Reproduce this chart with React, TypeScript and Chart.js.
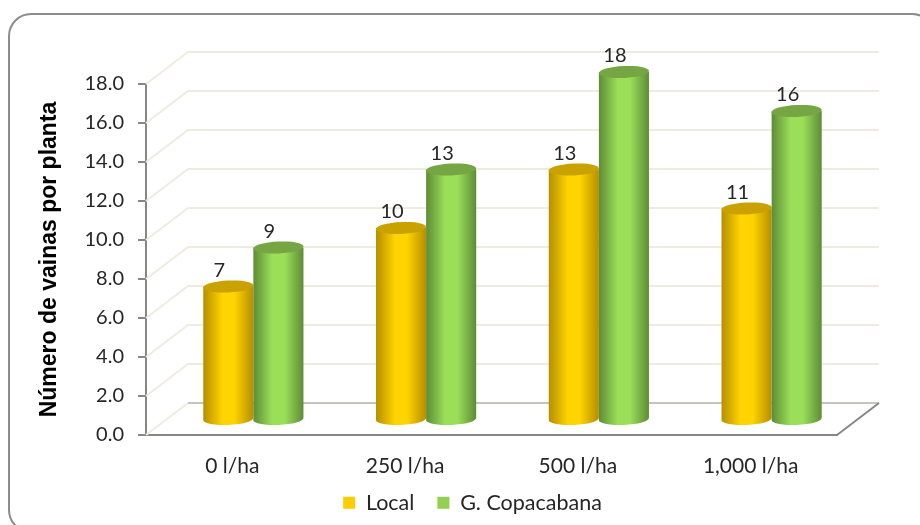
import React, { useEffect, useRef } from "react";
import { Chart, registerables } from "chart.js";

Chart.register(...registerables);

const categories = ["0 l/ha", "250 l/ha", "500 l/ha", "1,000 l/ha"];
const localValues = [7, 10, 13, 11];
const copacabanaValues = [9, 13, 18, 16];

const FONT = "Lato, sans-serif";
const AXIS_GRAY = "#868686";
const WALL_LINE = "#EEECE1";
const TEXT = "#262626";

// Offset from the front plane of the floor to the back wall.
const DEPTH_X = 42;
const DEPTH_Y = 32;

const PALETTE = [
  { solid: "#FFCC00", edge: "#B58E00", mid: "#FFD400", cap: "#C9A200" },
  { solid: "#92D050", edge: "#5E8C36", mid: "#9BDF59", cap: "#76A543" },
];

const roundedFrame = {
  id: "roundedFrame",
  beforeDraw(chart: any) {
    const { ctx } = chart;
    ctx.save();
    ctx.strokeStyle = "#8C8C8C";
    ctx.lineWidth = 2;
    ctx.beginPath();
    ctx.roundRect(9, 14, 925, 518, 22);
    ctx.stroke();
    ctx.restore();
  },
};

// Draws the back wall, the floor, and places the legend row under the plot.
const perspectiveBox = {
  id: "perspectiveBox",
  afterLayout(chart: any) {
    const legend = chart.legend;
    legend.left += 54;
    legend.right += 54;
    legend.top = 469;
    legend.bottom = 525;
    legend.height = 56;
  },
  beforeDatasetsDraw(chart: any) {
    const { ctx, chartArea, scales } = chart;
    const yScale = scales.y;
    const left = chartArea.left;
    const right = chartArea.right;
    ctx.save();
    ctx.lineWidth = 2;
    ctx.strokeStyle = WALL_LINE;
    yScale.ticks.forEach((tick: any) => {
      if (tick.value === 0) return;
      const y = yScale.getPixelForValue(tick.value);
      ctx.beginPath();
      ctx.moveTo(left, y);
      ctx.lineTo(left + DEPTH_X, y - DEPTH_Y);
      ctx.lineTo(right + DEPTH_X, y - DEPTH_Y);
      ctx.stroke();
    });
    const y0 = yScale.getPixelForValue(0);
    ctx.beginPath();
    ctx.moveTo(left, y0);
    ctx.lineTo(left + DEPTH_X, y0 - DEPTH_Y);
    ctx.stroke();
    ctx.strokeStyle = "#C4C4C0";
    ctx.beginPath();
    ctx.moveTo(left + DEPTH_X, y0 - DEPTH_Y);
    ctx.lineTo(right + DEPTH_X, y0 - DEPTH_Y);
    ctx.stroke();
    ctx.strokeStyle = AXIS_GRAY;
    ctx.beginPath();
    ctx.moveTo(right, y0);
    ctx.lineTo(right + DEPTH_X, y0 - DEPTH_Y);
    ctx.stroke();
    ctx.restore();
  },
};

// Replaces the flat bars with shaded cylinders standing mid-way into the box.
const BASE_RISE = 16;
const TOP_RISE = 12;
const CAP_RY = 6;
const TILT = -0.045;

const cylinders = {
  id: "cylinders",
  beforeDatasetDraw() {
    return false;
  },
  afterDatasetsDraw(chart: any) {
    const { ctx, scales } = chart;
    const y0 = scales.y.getPixelForValue(0);
    chart.data.datasets.forEach((dataset: any, di: number) => {
      const colors = PALETTE[di];
      chart.getDatasetMeta(di).data.forEach((bar: any, i: number) => {
        const width = bar.width;
        const rx = width / 2;
        const cx = bar.x + DEPTH_X / 2;
        const topY = bar.y - TOP_RISE;
        const baseY = y0 - BASE_RISE;
        const gradient = ctx.createLinearGradient(cx - rx, 0, cx + rx, 0);
        gradient.addColorStop(0, colors.edge);
        gradient.addColorStop(0.38, colors.mid);
        gradient.addColorStop(0.62, colors.mid);
        gradient.addColorStop(1, colors.edge);
        ctx.save();
        ctx.fillStyle = gradient;
        ctx.beginPath();
        ctx.moveTo(cx - rx, topY);
        ctx.lineTo(cx - rx, baseY);
        ctx.ellipse(cx, baseY, rx, CAP_RY, TILT, Math.PI, 0, true);
        ctx.lineTo(cx + rx, topY);
        ctx.closePath();
        ctx.fill();
        ctx.fillStyle = colors.cap;
        ctx.beginPath();
        ctx.ellipse(cx, topY, rx, CAP_RY, TILT, 0, Math.PI * 2);
        ctx.fill();
        ctx.fillStyle = TEXT;
        ctx.font = `20px ${FONT}`;
        ctx.textAlign = "center";
        ctx.textBaseline = "middle";
        ctx.fillText(String(dataset.data[i]), cx - 9, topY - 16);
        ctx.restore();
      });
    });
  },
};

export default function App() {
  const canvasRef = useRef<HTMLCanvasElement>(null);

  useEffect(() => {
    const chart = new Chart(canvasRef.current as HTMLCanvasElement, {
      type: "bar",
      data: {
        labels: categories,
        datasets: [
          { label: "Local", data: localValues, backgroundColor: PALETTE[0].solid },
          { label: "G. Copacabana", data: copacabanaValues, backgroundColor: PALETTE[1].solid },
        ],
      },
      options: {
        responsive: false,
        animation: false,
        layout: { padding: { left: 0, right: 83, top: 84, bottom: 0 } },
        datasets: { bar: { categoryPercentage: 0.58, barPercentage: 1 } },
        plugins: {
          tooltip: { enabled: false },
          legend: {
            position: "bottom",
            maxHeight: 30,
            labels: {
              boxWidth: 12,
              boxHeight: 12,
              padding: 23,
              color: TEXT,
              font: { family: FONT, size: 21.5 },
            },
          },
        },
        scales: {
          x: {
            afterFit: (scale: any) => {
              scale.height = 60;
            },
            grid: { display: false },
            border: { color: AXIS_GRAY, width: 2 },
            ticks: { color: TEXT, font: { family: FONT, size: 21 }, padding: 11, maxRotation: 0 },
          },
          y: {
            min: 0,
            max: 18,
            afterFit: (scale: any) => {
              scale.width = 146;
            },
            grid: { drawOnChartArea: false, color: AXIS_GRAY, lineWidth: 2, tickLength: 8 },
            border: { color: AXIS_GRAY, width: 2 },
            ticks: {
              stepSize: 2,
              color: TEXT,
              font: { family: FONT, size: 20 },
              padding: 14,
              callback: (value: any) => Number(value).toFixed(1),
            },
            title: {
              display: true,
              text: "Número de vainas por planta",
              color: "#000000",
              font: { family: "Liberation Sans", size: 23, weight: "bold" },
              padding: { top: 36, bottom: 0 },
            },
          },
        },
      },
      plugins: [roundedFrame, perspectiveBox, cylinders],
    } as any);
    return () => chart.destroy();
  }, []);

  return (
    <div style={{ position: "fixed", left: 0, top: 0, width: 920, height: 525, overflow: "hidden", background: "#fff" }}>
      <canvas ref={canvasRef} width={920} height={525} style={{ display: "block" }} />
    </div>
  );
}
